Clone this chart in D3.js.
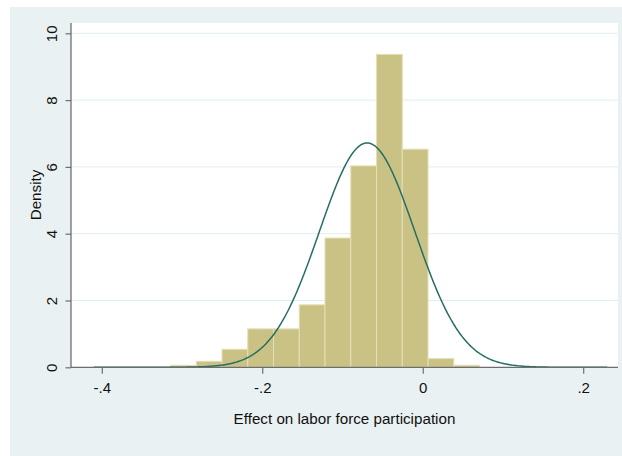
<!DOCTYPE html>
<html>
<head>
<meta charset="utf-8">
<script src="https://cdn.jsdelivr.net/npm/d3@7"></script>
<style>
  body { margin: 0; background: #ffffff; }
  svg { display: block; font-family: "Liberation Sans", Arial, sans-serif; }
</style>
</head>
<body>
<svg id="chart" width="622" height="456"></svg>
<script>
// Histogram bin edges (effect on labor force participation) and bar densities
const binEdges = [-0.3144, -0.2823, -0.2502, -0.2181, -0.1860, -0.1539, -0.1218,
                  -0.0897, -0.0576, -0.0255, 0.0066, 0.0387, 0.0708];
const densities = [0.06, 0.18, 0.54, 1.15, 1.15, 1.87, 3.87, 6.03, 9.37, 6.53, 0.26, 0.06];

// Overlaid normal density: parameters and the range it is drawn over
const normalMean = -0.0693;
const normalSD = 0.0594;
const curveRange = [-0.41, 0.23];

// Axis ticks
const xTicks = [-0.4, -0.2, 0, 0.2];
const xTickLabels = ["-.4", "-.2", "0", ".2"];
const yTicks = [0, 2, 4, 6, 8, 10];
const yTickLabels = ["0", "2", "4", "6", "8", "10"];

const xTitle = "Effect on labor force participation";
const yTitle = "Density";

const svg = d3.select("#chart");
const W = 622, H = 456;
const plot = { left: 71, right: 618, top: 23, bottom: 367.3 };
const fontFamily = "\"Liberation Sans\", Arial, sans-serif";

const x = d3.scaleLinear().domain([-0.4, 0.2]).range([101.8, 583.2]);
const y = d3.scaleLinear().domain([0, 10]).range([367.3, 33.3]);

// Graph background and plot region
svg.append("rect").attr("x", 10).attr("y", 7).attr("width", W - 10).attr("height", H - 7)
  .attr("fill", "#eaf1f3");
svg.append("rect").attr("x", plot.left).attr("y", plot.top)
  .attr("width", plot.right - plot.left).attr("height", plot.bottom - plot.top)
  .attr("fill", "#ffffff");

// Horizontal grid lines
svg.append("g").selectAll("line").data(yTicks.filter(d => d > 0)).join("line")
  .attr("x1", plot.left).attr("x2", plot.right)
  .attr("y1", d => y(d)).attr("y2", d => y(d))
  .attr("stroke", "#e2edf0").attr("stroke-width", 1);

// Histogram bars
const bins = densities.map((v, i) => ({ x0: binEdges[i], x1: binEdges[i + 1], v }));
svg.append("g").selectAll("rect").data(bins).join("rect")
  .attr("x", d => x(d.x0))
  .attr("width", d => x(d.x1) - x(d.x0))
  .attr("y", d => y(d.v))
  .attr("height", d => y(0) - y(d.v))
  .attr("fill", "#cac284")
  .attr("stroke", "#e4dfb6")
  .attr("stroke-width", 1);

// Normal density curve
const normalPdf = t => Math.exp(-0.5 * ((t - normalMean) / normalSD) ** 2) / (normalSD * Math.sqrt(2 * Math.PI));
const curvePts = d3.range(0, 401).map(i => {
  const t = curveRange[0] + (curveRange[1] - curveRange[0]) * i / 400;
  return [t, normalPdf(t)];
});
svg.append("path").datum(curvePts)
  .attr("d", d3.line().x(d => x(d[0])).y(d => y(d[1])))
  .attr("fill", "none")
  .attr("stroke", "#256e66")
  .attr("stroke-width", 1.5);

// Y axis
const yAxis = svg.append("g").attr("transform", `translate(${plot.left},0)`)
  .call(d3.axisLeft(y).tickValues(yTicks).tickFormat((d, i) => yTickLabels[i]).tickSize(5.5).tickSizeOuter(0));
yAxis.select(".domain").remove();
yAxis.append("line").attr("x1", 0).attr("x2", 0).attr("y1", plot.top).attr("y2", plot.bottom)
  .attr("stroke", "#6e6e6e").attr("stroke-width", 1.3);
yAxis.selectAll(".tick line").attr("stroke", "#6e6e6e").attr("stroke-width", 1.2);
yAxis.selectAll(".tick text")
  .attr("x", null).attr("dy", null)
  .attr("transform", "translate(-14.5,0) rotate(-90)")
  .attr("text-anchor", "middle")
  .attr("fill", "#111").attr("font-size", 15)
  .attr("font-family", fontFamily);

// X axis
const xAxis = svg.append("g").attr("transform", `translate(0,${plot.bottom})`)
  .call(d3.axisBottom(x).tickValues(xTicks).tickFormat((d, i) => xTickLabels[i]).tickSize(6.5).tickSizeOuter(0));
xAxis.select(".domain").remove();
xAxis.append("line").attr("x1", plot.left).attr("x2", plot.right).attr("y1", 0).attr("y2", 0)
  .attr("stroke", "#6e6e6e").attr("stroke-width", 1.3);
xAxis.selectAll(".tick line").attr("stroke", "#6e6e6e").attr("stroke-width", 1.2);
xAxis.selectAll(".tick text")
  .attr("y", 26).attr("dy", null)
  .attr("fill", "#111").attr("font-size", 15)
  .attr("font-family", fontFamily);

// Axis titles
svg.append("text")
  .attr("x", (plot.left + plot.right) / 2).attr("y", 423.5)
  .attr("text-anchor", "middle").attr("font-size", 15.2).attr("fill", "#111")
  .text(xTitle);
svg.append("text")
  .attr("transform", "translate(41,195) rotate(-90)")
  .attr("text-anchor", "middle").attr("font-size", 15.2).attr("fill", "#111")
  .text(yTitle);
</script>
</body>
</html>
